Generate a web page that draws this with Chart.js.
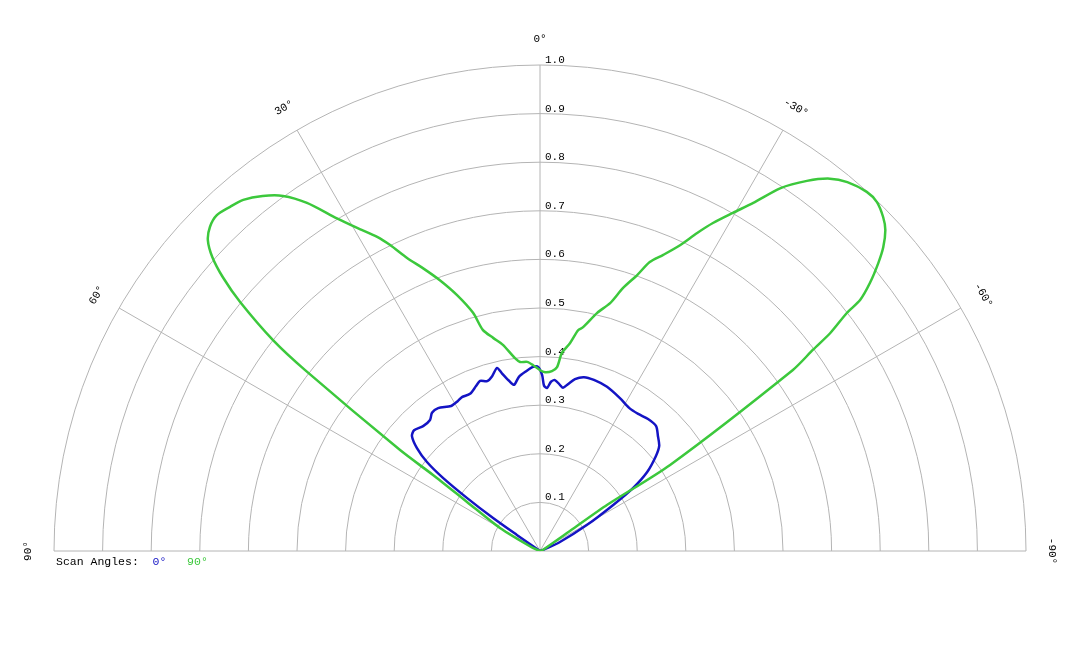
<!DOCTYPE html>
<html>
<head>
<meta charset="utf-8">
<script src="https://cdn.jsdelivr.net/npm/chart.js@4/dist/chart.umd.min.js"></script>
<style>
  html, body { margin: 0; padding: 0; background: #fff; }
  canvas { display: block; }
</style>
</head>
<body>
<canvas id="polar-chart" width="1080" height="648"></canvas>
<script>
// Polar pattern, angle in degrees (positive = left of 0), value = relative level
const scanLabels = ['0\u00b0', '90\u00b0'];

const blueAngles = [90, 55.2, 54.9, 54.0, 53.0, 51.8, 50.1, 48.1, 46.2, 43.1, 40.0, 38.0, 35.5, 31.5, 28.7, 26.9,
  24.0, 21.2, 19.4, 17.3, 15.3, 13.2, 12.1, 10.3, 8.9, 6.9, 4.4, 2.2, 0.6, -0.7, -1.4, -2.5, -3.7, -5.0, -6.9,
  -8.0, -9.5, -11.5, -14.2, -17.5, -22.2, -27.6, -31.9, -35.6, -39.3, -42.9, -45.7, -48.6, -50.7, -53.6,
  -55.9, -57.8, -61.0, -65.8, -72, -90];
const blueValues = [0, 0.058, 0.118, 0.186, 0.250, 0.296, 0.330, 0.354, 0.359, 0.352, 0.352, 0.361, 0.361, 0.350,
  0.352, 0.355, 0.354, 0.364, 0.371, 0.366, 0.373, 0.387, 0.374, 0.356, 0.346, 0.361, 0.371, 0.379, 0.379,
  0.362, 0.340, 0.336, 0.349, 0.353, 0.344, 0.339, 0.348, 0.361, 0.369, 0.369, 0.365, 0.355, 0.347, 0.347,
  0.351, 0.351, 0.339, 0.327, 0.308, 0.274, 0.231, 0.178, 0.110, 0.045, 0.006, 0];

const greenAngles = [90, 66.8, 60.1, 56.1, 54.6, 54.2, 52.4, 51.7, 50.3, 49.2, 48.1, 46.9, 45.5, 43.9, 42.0, 40.2,
  38.0, 35.9, 33.8, 31.4, 29.5, 27.4, 26.1, 24.4, 22.5, 20.3, 18.0, 15.7, 14.5, 12.4, 10.2, 7.4, 6.0, 3.9, 2.2,
  0, -1.6, -3.8, -5.3, -6.3, -8.2, -9.8, -10.9, -13.5, -15.8, -17.5, -19.4, -20.8, -22.6, -24.6, -26.3, -27.8,
  -29.7, -31.5, -33.5, -35.8, -37.9, -39.8, -42.3, -44.0, -45.8, -47.1, -48.5, -49.6, -50.9, -51.9, -52.2,
  -53.1, -53.6, -54.4, -56.5, -55.5, -56, -70, -90];
const greenValues = [0, 0.016, 0.095, 0.181, 0.270, 0.355, 0.610, 0.700, 0.802, 0.862, 0.906, 0.936, 0.952, 0.959,
  0.953, 0.946, 0.927, 0.902, 0.862, 0.802, 0.764, 0.728, 0.701, 0.662, 0.630, 0.594, 0.554, 0.509, 0.470,
  0.449, 0.431, 0.400, 0.391, 0.390, 0.383, 0.372, 0.368, 0.371, 0.380, 0.410, 0.432, 0.461, 0.469, 0.504,
  0.530, 0.567, 0.602, 0.636, 0.660, 0.692, 0.730, 0.763, 0.801, 0.840, 0.895, 0.939, 0.971, 0.988, 0.999,
  0.998, 0.985, 0.970, 0.943, 0.914, 0.875, 0.837, 0.799, 0.747, 0.698, 0.640, 0.321, 0.168, 0.083, 0.006, 0];

const ringTicks = [0.1, 0.2, 0.3, 0.4, 0.5, 0.6, 0.7, 0.8, 0.9, 1.0];
const spokeAngles = [90, 60, 30, 0, -30, -60, -90];

const blueColour = '#1414c4';
const greenColour = '#3cc83c';
const gridColour = '#b4b4b4';
const monoFont = '"Liberation Mono", "DejaVu Sans Mono", monospace';

// polar -> cartesian points for the scatter scales
toPoints = function (angles, values) {
  return angles.map((a, i) => {
    const t = a * Math.PI / 180;
    return { x: -values[i] * Math.sin(t), y: values[i] * Math.cos(t) };
  });
}

const polarGrid = {
  id: 'polarGrid',
  beforeDatasetsDraw(chart) {
    const ctx = chart.ctx;
    const xs = chart.scales.x, ys = chart.scales.y;
    const cx = xs.getPixelForValue(0), cy = ys.getPixelForValue(0);
    const unit = xs.getPixelForValue(1) - cx;
    ctx.save();
    ctx.strokeStyle = gridColour;
    ctx.lineWidth = 1;

    // rings
    ringTicks.forEach(r => {
      ctx.beginPath();
      ctx.arc(cx, cy, r * unit, Math.PI, 2 * Math.PI);
      ctx.stroke();
    });

    // spokes
    spokeAngles.forEach(a => {
      const t = a * Math.PI / 180;
      ctx.beginPath();
      ctx.moveTo(cx, cy);
      ctx.lineTo(xs.getPixelForValue(-Math.sin(t)), ys.getPixelForValue(Math.cos(t)));
      ctx.stroke();
    });

    // ring labels
    ctx.fillStyle = '#000';
    ctx.font = '11px ' + monoFont;
    ctx.textAlign = 'left';
    ctx.textBaseline = 'alphabetic';
    ringTicks.forEach(r => {
      ctx.fillText(r.toFixed(1), cx + 5, ys.getPixelForValue(r) - 2);
    });

    // angle labels
    ctx.textAlign = 'center';
    ctx.textBaseline = 'middle';
    spokeAngles.forEach(a => {
      const t = a * Math.PI / 180;
      const px = xs.getPixelForValue(-1.053 * Math.sin(t));
      const py = ys.getPixelForValue(1.053 * Math.cos(t));
      ctx.save();
      ctx.translate(px, py);
      ctx.rotate(-t);
      ctx.fillText(a + '\u00b0', 0, 0);
      ctx.restore();
    });

    // legend line
    ctx.textAlign = 'left';
    ctx.font = '11.5px ' + monoFont;
    let lx = 56;
    const ly = 562;
    ctx.fillStyle = '#000';
    ctx.fillText('Scan Angles:  ', lx, ly);
    lx += ctx.measureText('Scan Angles:  ').width;
    ctx.fillStyle = blueColour;
    ctx.fillText(scanLabels[0] + '   ', lx, ly);
    lx += ctx.measureText(scanLabels[0] + '   ').width;
    ctx.fillStyle = greenColour;
    ctx.fillText(scanLabels[1], lx, ly);

    ctx.restore();
  }
};

var ctx = document.getElementById('polar-chart').getContext('2d');
var polarChart = new Chart(ctx, {
  type: 'scatter',
  data: {
    datasets: [
      {
        label: scanLabels[0],
        data: toPoints(blueAngles, blueValues),
        borderColor: blueColour,
        backgroundColor: blueColour,
        order: 1
      },
      {
        label: scanLabels[1],
        data: toPoints(greenAngles, greenValues),
        borderColor: greenColour,
        backgroundColor: greenColour,
        order: 0
      }
    ]
  },
  options: {
    responsive: false,
    animation: false,
    showLine: true,
    layout: { padding: { left: 54, right: 54, top: 65, bottom: 97 } },
    elements: {
      point: { radius: 0, hoverRadius: 0 },
      line: { borderWidth: 2.5, tension: 0.25, borderJoinStyle: 'round', borderCapStyle: 'round' }
    },
    scales: {
      x: { type: 'linear', min: -1, max: 1, display: false },
      y: { type: 'linear', min: 0, max: 1, display: false }
    },
    plugins: {
      legend: { display: false },
      tooltip: { enabled: false }
    }
  },
  plugins: [polarGrid]
});
</script>
</body>
</html>
